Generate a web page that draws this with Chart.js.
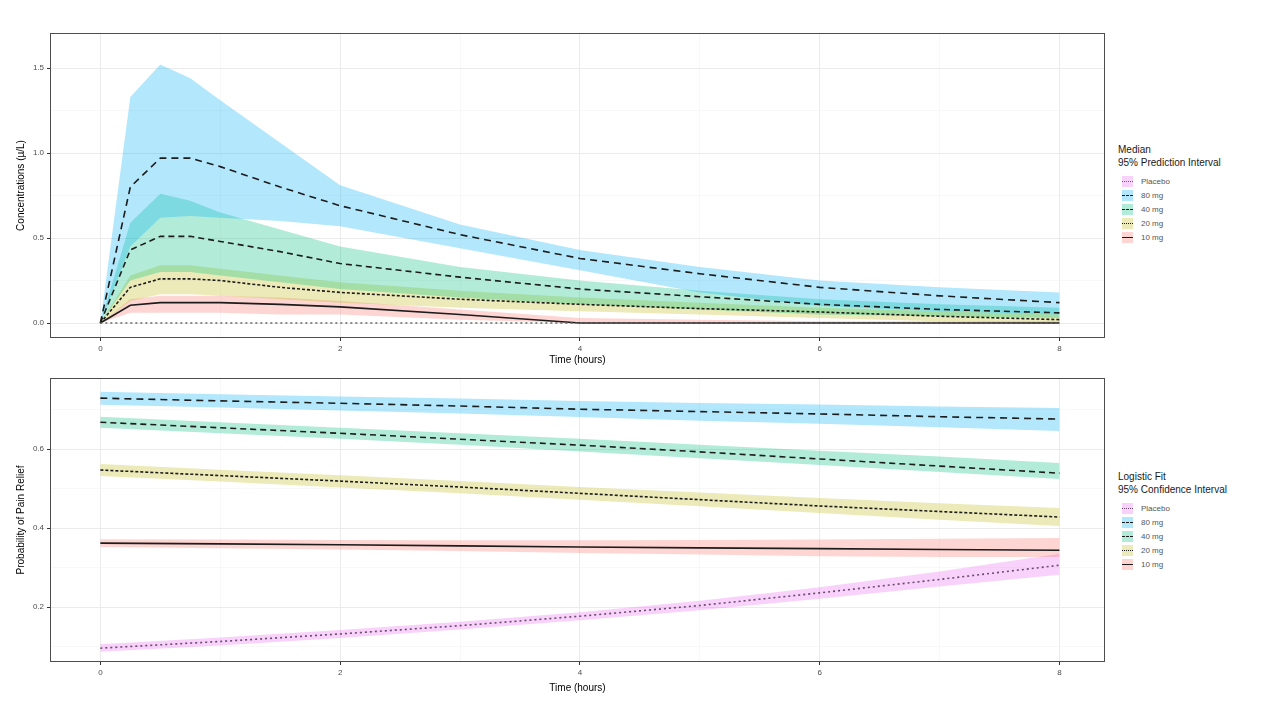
<!DOCTYPE html>
<html>
<head>
<meta charset="utf-8">
<script src="https://cdn.jsdelivr.net/npm/chart.js@4/dist/chart.umd.min.js"></script>
<style>
  body { margin: 0; background: #fff; font-family: "Liberation Sans", Arial, sans-serif; }
  #page { position: relative; width: 1280px; height: 720px; overflow: hidden; }
  .panel { position: absolute; left: 0; }
  .legend { position: absolute; left: 1118px; color: #1a1a1a; }
  .legend .ttl { font-size: 10px; line-height: 13px; }
  .legend .item { display: flex; align-items: center; height: 14px; font-size: 8px; color: #555; }
  .legend .key { position: relative; width: 11px; height: 11px; margin: 0 8px 0 4px; }
  .legend .key span { position: absolute; left: 0; right: 0; top: 5px; height: 0; }
</style>
</head>
<body>
<div id="page">
  <div class="panel" style="top:0;width:1110px;height:368px"><canvas id="pkChart" width="1110" height="368"></canvas></div>
  <div class="panel" style="top:345px;width:1110px;height:351px"><canvas id="prChart" width="1110" height="351"></canvas></div>
  <div class="legend" id="pkLegend" style="top:143px"></div>
  <div class="legend" id="prLegend" style="top:470px"></div>
</div>
<script>
// ---- data: concentration panel (median + 95% prediction interval) ----
const pkTime = [0, 0.25, 0.5, 0.75, 1, 1.5, 2, 3, 4, 5, 6, 7, 8];
const pk80Med = [0, 0.80, 0.97, 0.97, 0.92, 0.80, 0.69, 0.52, 0.38, 0.29, 0.21, 0.16, 0.12];
const pk80Hi  = [0, 1.33, 1.52, 1.44, 1.31, 1.06, 0.81, 0.58, 0.43, 0.33, 0.25, 0.21, 0.18];
const pk80Lo  = [0, 0.45, 0.62, 0.63, 0.62, 0.60, 0.57, 0.44, 0.31, 0.18, 0.10, 0.07, 0.05];
const pk40Med = [0, 0.43, 0.51, 0.51, 0.48, 0.42, 0.35, 0.27, 0.20, 0.155, 0.11, 0.08, 0.06];
const pk40Hi  = [0, 0.59, 0.76, 0.72, 0.65, 0.55, 0.45, 0.33, 0.25, 0.19, 0.14, 0.11, 0.09];
const pk40Lo  = [0, 0.25, 0.30, 0.30, 0.28, 0.24, 0.20, 0.15, 0.11, 0.08, 0.05, 0.04, 0.03];
const pk20Med = [0, 0.21, 0.26, 0.26, 0.25, 0.21, 0.18, 0.14, 0.11, 0.085, 0.065, 0.04, 0.02];
const pk20Hi  = [0, 0.28, 0.34, 0.34, 0.32, 0.28, 0.24, 0.19, 0.15, 0.12, 0.09, 0.07, 0.05];
const pk20Lo  = [0, 0.13, 0.17, 0.17, 0.16, 0.14, 0.12, 0.09, 0.07, 0.05, 0.03, 0.01, 0];
const pk10Med = [0, 0.105, 0.12, 0.12, 0.12, 0.11, 0.095, 0.05, 0, 0, 0, 0, 0];
const pk10Hi  = [0, 0.14, 0.16, 0.16, 0.16, 0.15, 0.13, 0.08, 0.03, 0.02, 0.01, 0.01, 0.01];
const pk10Lo  = [0, 0.06, 0.06, 0.06, 0.06, 0.05, 0.05, 0.02, 0, 0, 0, 0, 0];
const pkPlaMed = [0, 0, 0, 0, 0, 0, 0, 0, 0, 0, 0, 0, 0];

// ---- data: pain relief panel (logistic fit + 95% CI) ----
const prTime = [0, 1, 2, 3, 4, 5, 6, 7, 8];
const pr80Med = [0.729, 0.722, 0.716, 0.709, 0.701, 0.695, 0.689, 0.682, 0.676];
const pr80Hi  = [0.745, 0.739, 0.733, 0.728, 0.722, 0.717, 0.713, 0.708, 0.704];
const pr80Lo  = [0.712, 0.705, 0.698, 0.690, 0.681, 0.672, 0.664, 0.655, 0.646];
const pr40Med = [0.668, 0.654, 0.640, 0.625, 0.610, 0.593, 0.575, 0.557, 0.539];
const pr40Hi  = [0.682, 0.668, 0.654, 0.640, 0.626, 0.611, 0.596, 0.581, 0.565];
const pr40Lo  = [0.654, 0.640, 0.626, 0.611, 0.594, 0.577, 0.560, 0.542, 0.524];
const pr20Med = [0.547, 0.533, 0.519, 0.504, 0.488, 0.472, 0.456, 0.442, 0.428];
const pr20Hi  = [0.562, 0.548, 0.534, 0.519, 0.504, 0.490, 0.476, 0.463, 0.451];
const pr20Lo  = [0.532, 0.518, 0.503, 0.488, 0.472, 0.455, 0.438, 0.421, 0.405];
const pr10Med = [0.362, 0.360, 0.358, 0.355, 0.352, 0.350, 0.348, 0.346, 0.344];
const pr10Hi  = [0.372, 0.371, 0.370, 0.369, 0.369, 0.370, 0.371, 0.373, 0.375];
const pr10Lo  = [0.352, 0.349, 0.346, 0.342, 0.337, 0.333, 0.329, 0.327, 0.327];
const prPlaMed = [0.096, 0.113, 0.132, 0.153, 0.177, 0.204, 0.236, 0.270, 0.306];
const prPlaHi  = [0.106, 0.123, 0.142, 0.163, 0.187, 0.216, 0.250, 0.290, 0.335];
const prPlaLo  = [0.087, 0.103, 0.122, 0.143, 0.167, 0.192, 0.221, 0.252, 0.282];

// ---- ticks / labels ----
const groups = ["Placebo", "80 mg", "40 mg", "20 mg", "10 mg"];
const xTicks = [0, 2, 4, 6, 8];
const pkYTicks = [0, 0.5, 1.0, 1.5];
const prYTicks = [0.2, 0.4, 0.6];

// ggplot default hues
const colors = {
  "Placebo": [231, 107, 243],
  "80 mg": [0, 176, 246],
  "40 mg": [0, 191, 125],
  "20 mg": [190, 185, 20],
  "10 mg": [248, 118, 109]
};
const dashes = {
  "Placebo": [2, 3],
  "80 mg": [7, 5],
  "40 mg": [6, 4],
  "20 mg": [3, 2],
  "10 mg": []
};

function rgba(c, a) { return `rgba(${c[0]},${c[1]},${c[2]},${a})`; }
function pts(t, v) { return t.map((x, i) => ({ x: x, y: v[i] })); }

function band(t, hi, lo, g) {
  return [
    { data: pts(t, hi), borderWidth: 0, pointRadius: 0, backgroundColor: rgba(colors[g], 0.3), fill: "+1", tension: 0 },
    { data: pts(t, lo), borderWidth: 0, pointRadius: 0, fill: false, tension: 0 }
  ];
}
function line(t, v, g, col) {
  return { data: pts(t, v), borderColor: col || "#1c1c1c", borderWidth: 1.6, borderDash: dashes[g], pointRadius: 0, fill: false, tension: 0 };
}

// grid: majors from the tick arrays, minors half-way between
function withMinors(list, step) {
  const out = [];
  list.forEach(v => { out.push(v); out.push(v + step / 2); });
  out.unshift(list[0] - step / 2);
  return out.map(v => +v.toFixed(4));
}
function isMajor(list, v) { return list.some(m => Math.abs(m - v) < 1e-6); }

const framePlugin = {
  id: "frame",
  afterDraw(chart) {
    const a = chart.chartArea, c = chart.ctx;
    c.save();
    c.strokeStyle = "#4d4d4d";
    c.lineWidth = 1;
    c.strokeRect(a.left + 0.5, a.top + 0.5, a.right - a.left - 1, a.bottom - a.top - 1);
    c.restore();
  }
};

function axis(ticks, step, min, max, fmt, titleText, horizontal, size) {
  const all = withMinors(ticks, step).filter(v => v >= min && v <= max);
  return {
    type: "linear",
    min: min,
    max: max,
    afterBuildTicks: s => { s.ticks = all.map(v => ({ value: v })); },
    afterFit: s => { if (horizontal) s.height = size; else s.width = size; },
    grid: {
      color: ctx => isMajor(ticks, ctx.tick.value) ? "#ebebeb" : "#f4f4f4",
      lineWidth: ctx => isMajor(ticks, ctx.tick.value) ? 1 : 0.6,
      tickColor: ctx => isMajor(ticks, ctx.tick.value) ? "#333" : "rgba(0,0,0,0)",
      tickLength: 3,
      drawTicks: true
    },
    border: { display: false },
    ticks: {
      autoSkip: false,
      maxRotation: 0,
      padding: 3,
      color: "#4d4d4d",
      font: { size: 8, family: "Liberation Sans" },
      callback: v => isMajor(ticks, v) ? fmt(v) : ""
    },
    title: { display: true, text: titleText, color: "#000", font: { size: 10, family: "Liberation Sans" }, padding: { top: 2, bottom: 2 } }
  };
}

function makeChart(id, datasets, yTicks, yStep, yMin, yMax, yFmt, yTitle, padTop, xHeight) {
  return new Chart(document.getElementById(id), {
    type: "line",
    data: { datasets: datasets },
    options: {
      responsive: false,
      animation: false,
      layout: { padding: { top: padTop, right: 5, left: 13, bottom: 0 } },
      plugins: { legend: { display: false }, tooltip: { enabled: false }, filler: { drawTime: "beforeDatasetsDraw" } },
      scales: {
        x: axis(xTicks, 2, -0.42, 8.38, v => String(v), "Time (hours)", true, xHeight),
        y: axis(yTicks, yStep, yMin, yMax, yFmt, yTitle, false, 37)
      }
    },
    plugins: [framePlugin]
  });
}

const pkSets = [
  ...band(pkTime, pk80Hi, pk80Lo, "80 mg"),
  ...band(pkTime, pk40Hi, pk40Lo, "40 mg"),
  ...band(pkTime, pk20Hi, pk20Lo, "20 mg"),
  ...band(pkTime, pk10Hi, pk10Lo, "10 mg"),
  line(pkTime, pkPlaMed, "Placebo", "#666"),
  line(pkTime, pk80Med, "80 mg"),
  line(pkTime, pk40Med, "40 mg"),
  line(pkTime, pk20Med, "20 mg"),
  line(pkTime, pk10Med, "10 mg")
];
const prSets = [
  ...band(prTime, pr80Hi, pr80Lo, "80 mg"),
  ...band(prTime, pr40Hi, pr40Lo, "40 mg"),
  ...band(prTime, pr20Hi, pr20Lo, "20 mg"),
  ...band(prTime, pr10Hi, pr10Lo, "10 mg"),
  ...band(prTime, prPlaHi, prPlaLo, "Placebo"),
  line(prTime, pr80Med, "80 mg"),
  line(prTime, pr40Med, "40 mg"),
  line(prTime, pr20Med, "20 mg"),
  line(prTime, pr10Med, "10 mg"),
  line(prTime, prPlaMed, "Placebo", "#6a4a6e")
];

makeChart("pkChart", pkSets, pkYTicks, 0.5, -0.088, 1.706, v => v.toFixed(1), "Concentrations (\u00b5/L)", 33, 30);
makeChart("prChart", prSets, prYTicks, 0.2, 0.061, 0.78, v => v.toFixed(1), "Probability of Pain Relief", 33, 34);

// legends
function buildLegend(id, titleLines, lineCols) {
  const el = document.getElementById(id);
  let html = titleLines.map(t => `<div class="ttl">${t}</div>`).join("");
  html += `<div style="height:5px"></div>`;
  groups.forEach(g => {
    const d = dashes[g];
    const style = d.length === 0 ? "solid" : (d[0] <= 3 ? "dotted" : "dashed");
    html += `<div class="item"><div class="key" style="background:${rgba(colors[g], 0.3)}">` +
      `<span style="border-top:1.5px ${style} ${lineCols[g] || "#1c1c1c"}"></span></div>${g}</div>`;
  });
  el.innerHTML = html;
}
buildLegend("pkLegend", ["Median", "95% Prediction Interval"], { "Placebo": "#666" });
buildLegend("prLegend", ["Logistic Fit", "95% Confidence Interval"], { "Placebo": "#6a4a6e" });
</script>
</body>
</html>
